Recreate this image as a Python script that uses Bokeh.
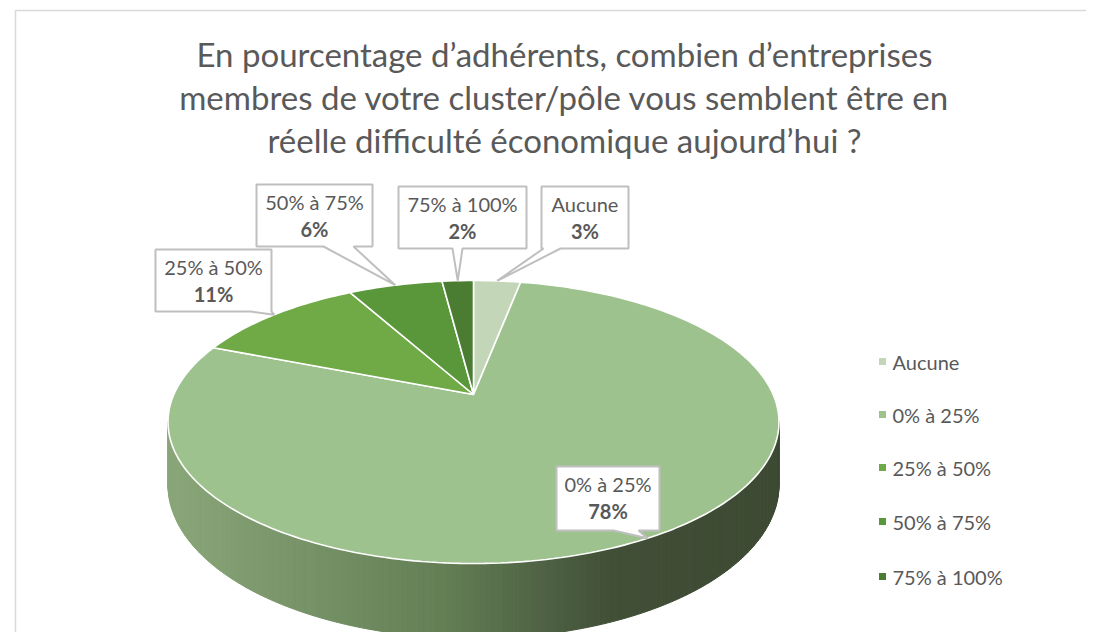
import numpy as np
from bokeh.plotting import figure
from bokeh.models import Range1d
from bokeh.embed import file_html
from bokeh.resources import INLINE
from bokeh.core.properties import value

# ---------------- data ----------------
title_lines = [
    "En pourcentage d\u2019adh\u00e9rents, combien d\u2019entreprises",
    "membres de votre cluster/p\u00f4le vous semblent \u00eatre en",
    "r\u00e9elle difficult\u00e9 \u00e9conomique aujourd\u2019hui ?",
]
categories = ["Aucune", "0% \u00e0 25%", "25% \u00e0 50%", "50% \u00e0 75%", "75% \u00e0 100%"]
percents = [3, 78, 11, 6, 2]
colors = ["#c3d7b8", "#9ec28e", "#6faa46", "#5a963a", "#4a7c32"]

# ---------------- layout ----------------
W, H = 1086, 632
FONT = "Lato"
TXT = "#595959"

# pie projection (perspective view of a tilted disc)
CX, CY0 = 473.0, 394.0   # projected centre (apex)
TOP_Y, FRONT_Y = 280.0, 563.0
# y = (A v + CY0)/(C v + 1) with v=1 -> TOP_Y, v=-1 -> FRONT_Y
C = (FRONT_Y + TOP_Y - 2 * CY0) / (FRONT_Y - TOP_Y)
A = TOP_Y * C + TOP_Y - CY0
K = 305.5 * np.sqrt(1 - C * C)
DEPTH_FRONT = 75.0
D0 = DEPTH_FRONT * (1 - C)


def proj(alpha):
    u = np.sin(alpha)
    v = np.cos(alpha)
    d = 1 + C * v
    return CX + K * u / d, (A * v + CY0) / d, D0 / d


p = figure(width=W, height=H, output_backend="svg", toolbar_location=None,
           x_range=Range1d(0, W), y_range=Range1d(H, 0),
           min_border=0, outline_line_color=None)
p.axis.visible = False
p.grid.visible = False
p.background_fill_color = "white"
p.border_fill_color = "white"

# chart frame
p.line(x=[1200, 15, 15], y=[10, 10, 700], line_color="#d9d9d9", line_width=1.5)

# title
for i, t in enumerate(title_lines):
    p.text(x=[564], y=[53 + 43 * i], text=[t], text_font=value(FONT),
           text_font_size="33px", text_color=TXT, text_align="center",
           text_baseline="middle")

# side of the pie (gradient strips)
a_right = np.arccos(-C)
a_left = 2 * np.pi - a_right
N = 180
edges = np.linspace(a_right, a_left, N + 1)
stops_t = [0.0, 0.45, 0.72, 1.0]
stops_c = np.array([[138, 167, 122], [100, 127, 85], [66, 80, 56], [62, 74, 52]])
xs_min, xs_max = CX - 305.5, CX + 305.5
sx, sy, sc = [], [], []
for i in range(N):
    a0, a1 = edges[i], edges[i + 1]
    x0, y0, d0 = proj(a0)
    x1, y1, d1 = proj(a1)
    sx.append([x0, x1, x1, x0])
    sy.append([y0 - 1, y1 - 1, y1 + d1, y0 + d0])
    t = np.clip(((x0 + x1) / 2 - xs_min) / (xs_max - xs_min), 0, 1)
    col = [int(np.interp(t, stops_t, stops_c[:, k])) for k in range(3)]
    sc.append("#%02x%02x%02x" % tuple(col))
p.patches(xs=sx, ys=sy, fill_color=sc, line_color=sc, line_width=1)

# top face wedges
total = float(sum(percents))
cum = np.concatenate([[0], np.cumsum(percents)]) / total * 2 * np.pi
wx, wy = [], []
mids = []
for i in range(len(percents)):
    aa = np.linspace(cum[i], cum[i + 1], max(int(percents[i] * 3), 6))
    px, py, _ = proj(aa)
    wx.append([CX] + list(px))
    wy.append([CY0] + list(py))
    mx, my, _ = proj((cum[i] + cum[i + 1]) / 2)
    mids.append((mx, my))
p.patches(xs=wx, ys=wy, fill_color=colors, line_color="white", line_width=1.6)

# callout labels: box (x0, y0, x1, y1), tail base on box bottom (bx0, bx1)
boxes = [
    (541, 186, 628, 248, 543, 560),
    (556, 466, 659, 530, 613, 638),
    (155, 249, 271, 311, 250, 271),
    (256, 184, 372, 246, 323, 353),
    (398, 186, 526, 248, 452, 462),
]
cx_, cy_ = [], []
for i, (x0, y0, x1, y1, b0, b1) in enumerate(boxes):
    tx, ty = mids[i]
    cx_.append([x0, x1, x1, b1, tx, b0, x0])
    cy_.append([y0, y0, y1, y1, ty, y1, y1])
p.patches(xs=cx_, ys=cy_, fill_color="white", line_color="#bfbfbf", line_width=2)
for i, (x0, y0, x1, y1, b0, b1) in enumerate(boxes):
    xc = (x0 + x1) / 2
    p.text(x=[xc], y=[y0 + 17], text=[categories[i]], text_font=value(FONT),
           text_font_size="20px", text_color=TXT, text_align="center",
           text_baseline="middle")
    p.text(x=[xc], y=[y0 + 44], text=["%d%%" % percents[i]], text_font=value(FONT),
           text_font_size="20px", text_font_style="bold", text_color=TXT,
           text_align="center", text_baseline="middle")

# legend
leg_y = [361, 414, 467, 521, 576]
p.scatter(x=[882] * 5, y=leg_y, marker="square", size=7, fill_color=colors,
          line_color=None)
p.text(x=[892] * 5, y=leg_y, text=categories, text_font=value(FONT),
       text_font_size="20px", text_color=TXT, text_align="left",
       text_baseline="middle")

open("out.html", "w").write(file_html(p, INLINE))
